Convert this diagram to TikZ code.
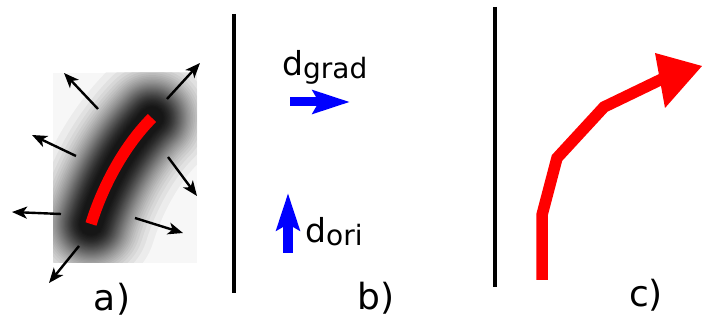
\documentclass[tikz,border=0pt]{standalone}
\usepackage{fontspec}
\setmainfont{DejaVu Sans}
\usetikzlibrary{arrows.meta}
\begin{document}
\begin{tikzpicture}[x=1pt,y=-1pt,
  blk/.style={line width=2.4pt,-{Stealth[length=15pt,width=12pt,inset=4pt]}},
  bluearr/.style={blue,line width=9pt,-{Stealth[length=37pt,width=23pt,inset=6pt]}},
  sep/.style={line width=3.5pt},
  lbl/.style={font=\fontsize{36}{40}\selectfont,anchor=base,inner sep=0pt},
  sym/.style={anchor=base west,inner sep=0pt},
  blur/.style={black,opacity=0.045,line cap=round},
  redstroke/.style={red,line width=11.5pt}
  ]
\useasboundingbox (0,0) rectangle (702,320);
% panel a: blurred edge
\coordinate (e1) at (91,224);
\coordinate (e2) at (152,118);
\begin{scope}
  \clip (53,73) rectangle (197,263);
  \fill[black!3] (53,73) rectangle (197,263);
  \foreach \n in {1,...,46}{
    \pgfmathsetmacro{\rad}{6+24*sqrt(2*ln(0.9/(1-0.955^\n)))}
    \draw[blur,line width=2*\rad pt] (e1) .. controls (103,185) and (125,145) .. (e2);
  }
\end{scope}
\draw[redstroke] (e1) .. controls (103,185) and (125,145) .. (e2);
% normal arrows
\coordinate (t1) at (98,109);  \coordinate (h1) at (64,73);
\coordinate (t2) at (167,99);  \coordinate (h2) at (200,63);
\coordinate (t3) at (76,156);  \coordinate (h3) at (32,135);
\coordinate (t4) at (168,157); \coordinate (h4) at (197,196);
\coordinate (t5) at (61,214);  \coordinate (h5) at (12,212);
\coordinate (t6) at (135,218); \coordinate (h6) at (183,233);
\coordinate (t7) at (79,246);  \coordinate (h7) at (49,283);
\foreach \i in {1,...,7}{\draw[blk] (t\i) -- (h\i);}
\node[lbl] (la) at (112,311) {a)};
% separators
\draw[sep] (234,14) -- (234,293);
\draw[sep] (495,7) -- (495,287);
% panel b
\node[sym] (dg) at (282,76) {\fontsize{33}{36}\selectfont d\raisebox{-3pt}{\fontsize{28}{30}\selectfont grad}};
\coordinate (g1) at (290,102); \coordinate (g2) at (350,102);
\draw[bluearr] (g1) -- (g2);
\coordinate (o1) at (288,253); \coordinate (o2) at (288,193);
\draw[bluearr,line width=10pt] (o1) -- (o2);
\node[sym] (do) at (305,243) {\fontsize{33}{36}\selectfont d\raisebox{-3pt}{\fontsize{28}{30}\selectfont ori}};
\node[lbl] (lb) at (376,310) {b)};
% panel c
\coordinate (p0) at (542,280);
\coordinate (p1) at (542,215);
\coordinate (p2) at (557,158);
\coordinate (p3) at (604,107);
\coordinate (p4) at (662,79);
\draw[redstroke] (p0) -- (p1) -- (p2) -- (p3) -- (p4);
\fill[red] (655,53) -- (702,66) -- (665,108) -- cycle;
\node[lbl] (lc) at (646,307) {c)};
\end{tikzpicture}
\end{document}
